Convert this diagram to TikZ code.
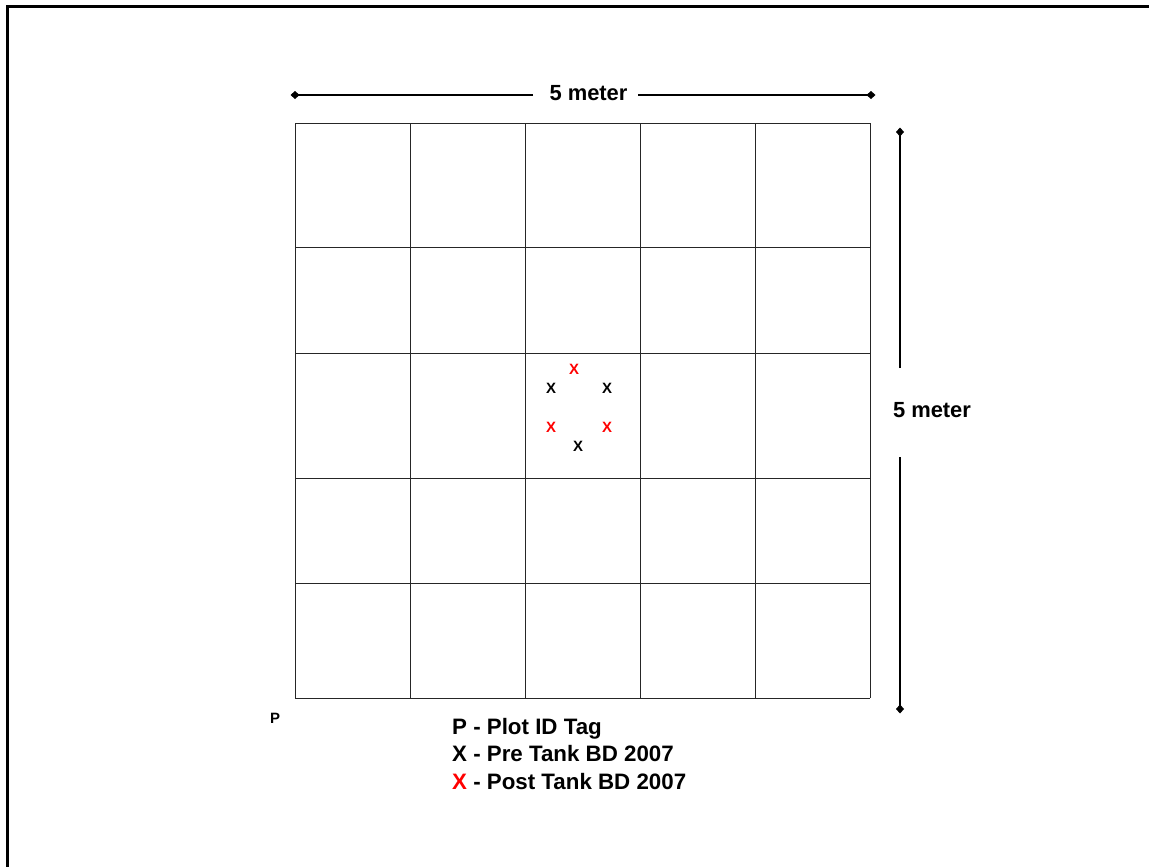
\documentclass[tikz,border=0pt]{standalone}
\usepackage{fontspec}
\setmainfont{Liberation Sans}
\usetikzlibrary{arrows.meta}
\begin{document}
\begin{tikzpicture}[x=1bp,y=-1bp,
  gridline/.style={line width=0.9bp, black!85},
  dimline/.style={line width=1.4bp, -{Diamond[length=9bp,width=8bp]}},
  dimtext/.style={font=\bfseries\fontsize{22}{26}\selectfont, inner sep=0pt},
  mk/.style={font=\bfseries\fontsize{15}{18}\selectfont, inner sep=0pt},
  legend/.style={font=\bfseries\fontsize{22.4}{26}\selectfont, inner sep=0pt, anchor=west}]
\useasboundingbox (0,0) rectangle (1149,867);
\clip (0,0) rectangle (1149,867);
% outer frame
\draw[line width=3bp] (7,890) -- (7,6) -- (1170,6);
% grid
\foreach \x in {295,410,525,640,755,870} \draw[gridline] (\x,123) -- (\x,698);
\foreach \y in {123,247,353,478,583,698} \draw[gridline] (295,\y) -- (870,\y);
% horizontal dimension
\node[dimtext] (ht) at (588.5,93) {5 meter};
\coordinate (hl) at (290.5,95);
\coordinate (hr) at (875.5,95);
\coordinate (hla) at (533,95);
\coordinate (hrb) at (638,95);
\draw[dimline] (hla) -- (hl);
\draw[dimline] (hrb) -- (hr);
% vertical dimension
\node[dimtext] (vt) at (932,410) {5 meter};
\coordinate (vtop) at (900,127.5);
\coordinate (vbot) at (900,713.5);
\coordinate (vta) at (900,368);
\coordinate (vbb) at (900,457);
\draw[dimline] (vta) -- (vtop);
\draw[dimline] (vbb) -- (vbot);
% marks
\node[mk, red] (r1) at (574,369) {X};
\node[mk] (b1) at (551,388) {X};
\node[mk] (b2) at (607,388) {X};
\node[mk, red] (r2) at (551,427) {X};
\node[mk, red] (r3) at (607,427) {X};
\node[mk] (b3) at (578,446) {X};
% P tag
\node[mk] (p) at (275,718) {P};
% legend
\node[legend] (l1) at (452,729) {P - Plot ID Tag};
\node[legend] (l2) at (452,754) {X - Pre Tank BD 2007};
\node[legend] (l3) at (452,782) {\textcolor{red}{X} - Post Tank BD 2007};
\end{tikzpicture}
\end{document}
